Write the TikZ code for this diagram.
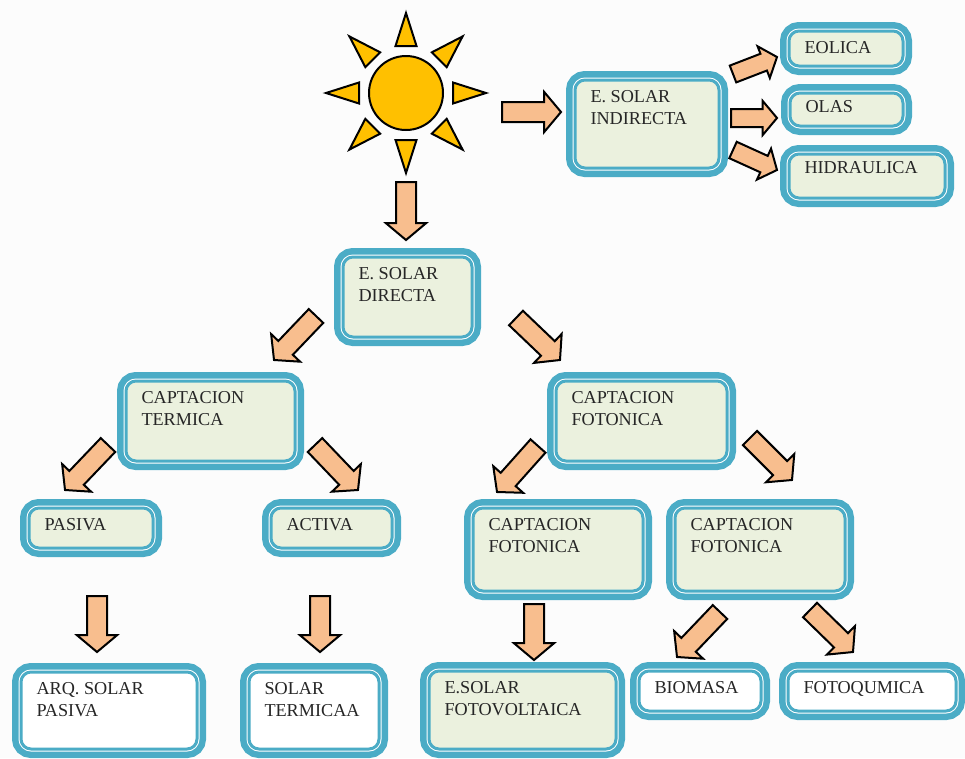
\documentclass[tikz,border=0pt]{standalone}
\usepackage{fontspec}
\setmainfont{Liberation Serif}
\usetikzlibrary{shapes,arrows,positioning,calc}
\definecolor{azulcaja}{HTML}{4BACC6}
\definecolor{verdecaja}{HTML}{EBF1DE}
\definecolor{naranja}{HTML}{F8BE8E}
\definecolor{amarillo}{HTML}{FFC000}
% cuadro de texto: ancho, alto, contenido
\newcommand{\txt}[3]{\parbox[c][#2pt][t]{#1pt}{\raggedright\leftskip=-1.5pt\fontsize{18.2}{22}\selectfont #3}}
\newcommand{\flecha}[4]{\path let \p1=(#3),\p2=(#4),\n1={atan2(\y2-\y1,\x2-\x1)},\n2={veclen(\x2-\x1,\y2-\y1)} in
	node[#2,rotate=\n1,minimum height=\n2] (#1) at (\p1) {};}
\begin{document}
\begin{tikzpicture}[x=1pt,y=-1pt]
\tikzset{caja/.style={anchor=north west,xshift=2pt,yshift=-2pt,outer sep=0pt,inner xsep=17pt,inner ysep=10pt,rounded corners=10pt,text=black!85,draw=azulcaja,line width=3pt,
	preaction={draw=azulcaja,line width=18pt},preaction={draw=white,line width=5pt}}, }
\tikzset{verde/.style={caja,fill=verdecaja}, }
\tikzset{blanca/.style={caja,fill=white}, }
\tikzset{flechabase/.style={single arrow,anchor=tail,outer sep=0pt,inner xsep=0pt,draw=black,fill=naranja,line width=2pt,single arrow head indent=0pt,single arrow tip angle=100}, }
\tikzset{grande/.style={flechabase,inner ysep=9pt,single arrow head extend=10pt}, }
\tikzset{chica/.style={flechabase,inner ysep=8pt,single arrow head extend=8pt}, }
\tikzset{rayo/.style={draw=black,fill=amarillo,line width=2pt,line join=miter}, }
\useasboundingbox (0,0) rectangle (965,758);
\fill[white!99!black] (0,0) rectangle (965,758);
% sol
\node[circle,draw=black,fill=amarillo,line width=2pt,minimum size=74pt,inner sep=0pt,outer sep=0pt] (sol) at (406,93) {};
\foreach \ang in {0,45,...,315}
	\draw[rayo,shift={(sol.center)},rotate=\ang] (47,-10.5) -- (80,0) -- (47,10.5) -- cycle;
% cuadros
\node[verde] (indirecta) at (573,78) {\txt{110}{68}{E. SOLAR\\INDIRECTA}};
\node[verde] (eolica) at (787,29) {\txt{80}{15}{EOLICA}};
\node[verde] (olas) at (788,91) {\txt{79}{13}{\vspace*{-3pt}OLAS}};
\node[verde] (hidraulica) at (787,152) {\txt{122}{24}{\vspace*{-3pt}HIDRAULICA}};
\node[verde] (directa) at (341,255) {\txt{95}{60}{E. SOLAR\\DIRECTA}};
\node[verde] (termica) at (124,379) {\txt{135}{60}{CAPTACION\\TERMICA}};
\node[verde] (fotonica) at (554,379) {\txt{137}{60}{CAPTACION\\FOTONICA}};
\node[verde] (pasiva) at (27,506) {\txt{90}{20}{PASIVA}};
\node[verde] (activa) at (269,506) {\txt{87}{20}{ACTIVA}};
\node[verde] (fotonicaa) at (471,506) {\txt{136}{63}{CAPTACION\\FOTONICA}};
\node[verde] (fotonicab) at (673,506) {\txt{136}{63}{CAPTACION\\FOTONICA}};
\node[blanca] (arq) at (19,670) {\txt{142}{57}{ARQ. SOLAR\\PASIVA}};
\node[blanca] (solter) at (247,670) {\txt{96}{57}{SOLAR\\TERMICAA}};
\node[verde] (fotovol) at (427,669) {\txt{153}{58}{E.SOLAR\\FOTOVOLTAICA}};
\node[blanca] (biomasa) at (637,669) {\txt{88}{20}{BIOMASA}};
\node[blanca] (fotoq) at (786,669) {\txt{134}{20}{FOTOQUMICA}};
% flechas
\foreach \nom/\est/\ori/\dori/\des/\ddes in {
	fa/grande/sol.south/{0,52}/directa.north/{-1.5,-17},
	fb/grande/sol.east/{59,19}/indirecta.west/{-14,-12},
	fc/chica/indirecta.north east/{14,-6}/eolica.west/{-12,8.5},
	fd/chica/indirecta.east/{12,-6}/olas.west/{-13,8.5},
	fe/chica/indirecta.south east/{14,-18}/hidraulica.west/{-12,-6},
	ff/grande/directa.south west/{-27,-21}/termica.north/{63.5,-21},
	fg/grande/directa.south east/{44,-19}/fotonica.north/{-81.5,-21},
	fh/grande/termica.south west/{-18,-16}/pasiva.north/{-26,-18},
	fi/grande/termica.south east/{20,-16}/activa.north/{26.5,-18},
	fj/grande/fotonica.south west/{-18,-15}/fotonicaa.north/{-61,-16},
	fk/grande/fotonica.south east/{23,-23}/fotonicab.north/{32,-28},
	fl/grande/pasiva.south/{6,48}/arq.north/{-12,-20},
	fm/grande/activa.south/{-11.5,48}/solter.north/{6,-20},
	fn/grande/fotonicaa.south/{-24,13}/fotovol.north/{11.5,-11},
	fo/grande/fotonicab.south/{-40,21}/biomasa.north/{-23,-14},
	fp/grande/fotonicab.south/{50,19}/fotoq.north/{-19,-19}}
	{\flecha{\nom}{\est}{[shift={(\dori)}]\ori}{[shift={(\ddes)}]\des}}
\end{tikzpicture}
\end{document}
